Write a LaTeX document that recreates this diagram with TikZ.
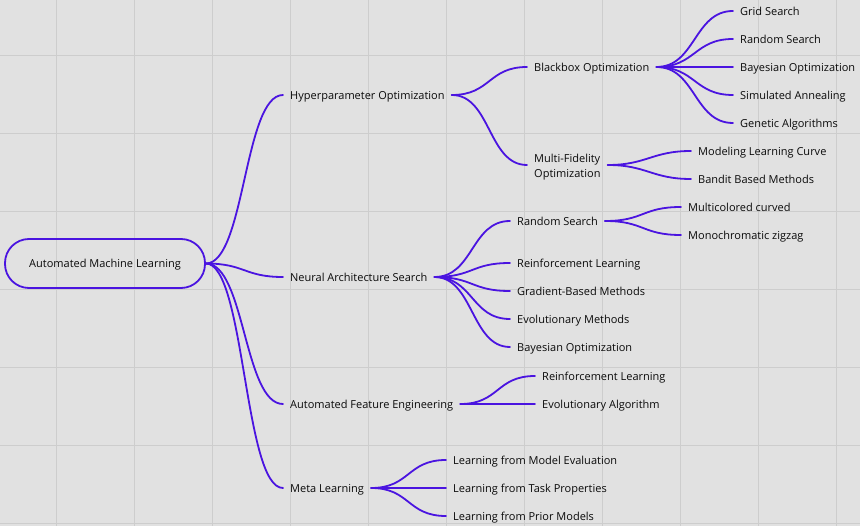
\documentclass[tikz,border=0pt]{standalone}
\usepackage{fontspec}
\setmainfont{Open Sans}
\definecolor{bg}{HTML}{E1E1E1}
\definecolor{gridc}{HTML}{CDCDCD}
\definecolor{edge}{HTML}{4A14E0}
\definecolor{txt}{HTML}{0A0A0A}
\tikzset{
  lbl/.style={anchor=west, inner xsep=7pt, inner ysep=2pt, text=txt,
    text height=10.5pt, text depth=1.5pt,
    font=\fontsize{11}{15}\selectfont},
  lbltwo/.style={anchor=west, inner xsep=7pt, inner ysep=2pt, text=txt,
    align=left, font=\fontsize{11}{15}\selectfont},
  rootbox/.style={draw=edge, line width=1.8pt, rounded corners=24pt,
    minimum width=200pt, minimum height=49pt, text=txt,
    text height=10.5pt, text depth=1.5pt,
    font=\fontsize{11}{13}\selectfont},
  link/.style={draw=edge, line width=1.8pt, line cap=round},
}
\newcommand{\conn}[2]{\draw[link] (#1.east) .. controls +(39,0) and +(-39,0) .. (#2.west);}
\begin{document}
\begin{tikzpicture}[x=1pt,y=-1pt]
\fill[bg] (0,0) rectangle (860,526);
\useasboundingbox (0,0) rectangle (860,526);
\foreach \i in {0,...,10} \draw[gridc, line width=0.9pt] (56+78*\i,0) -- (56+78*\i,526);
\foreach \j in {0,...,6} \draw[gridc, line width=0.9pt] (0,55+78*\j) -- (860,55+78*\j);

\node[rootbox] (root) at (105,263.5) {Automated Machine Learning};

\node[lbl] (hp)  at (283,95)  {Hyperparameter Optimization};
\node[lbl] (nas) at (283,277) {Neural Architecture Search};
\node[lbl] (afe) at (283,404) {Automated Feature Engineering};
\node[lbl] (ml)  at (283,488) {Meta Learning};

\node[lbl] (bb) at (527,67)  {Blackbox Optimization};
\node[lbltwo] (mf) at (527,167) {Multi-Fidelity\\Optimization};
\coordinate (mfw) at ([yshift=2pt]mf.west);
\coordinate (mfe) at ([yshift=2pt]mf.east);

\node[lbl] (gs)  at (733,11)  {Grid Search};
\node[lbl] (rs)  at (733,39)  {Random Search};
\node[lbl] (bo)  at (733,67)  {Bayesian Optimization};
\node[lbl] (sa)  at (733,95)  {Simulated Annealing};
\node[lbl] (ga)  at (733,123) {Genetic Algorithms};

\node[lbl] (mlc) at (691,151) {Modeling Learning Curve};
\node[lbl] (bbm) at (691,179) {Bandit Based Methods};

\node[lbl] (nrs) at (510,221) {Random Search};
\node[lbl] (nrl) at (510,263) {Reinforcement Learning};
\node[lbl] (ngb) at (510,291) {Gradient-Based Methods};
\node[lbl] (nev) at (510,319) {Evolutionary Methods};
\node[lbl] (nbo) at (510,347) {Bayesian Optimization};

\node[lbl] (mc) at (681,207) {Multicolored curved};
\node[lbl] (mz) at (681,235) {Monochromatic zigzag};

\node[lbl] (arl) at (535,376) {Reinforcement Learning};
\node[lbl] (aea) at (535,404) {Evolutionary Algorithm};

\node[lbl] (lme) at (446,460) {Learning from Model Evaluation};
\node[lbl] (ltp) at (446,488) {Learning from Task Properties};
\node[lbl] (lpm) at (446,516) {Learning from Prior Models};

\conn{root}{hp}\conn{root}{nas}\conn{root}{afe}\conn{root}{ml}
\conn{hp}{bb}
\draw[link] (hp.east) .. controls +(39,0) and +(-39,0) .. (mfw);
\conn{bb}{gs}\conn{bb}{rs}\conn{bb}{bo}\conn{bb}{sa}\conn{bb}{ga}
\draw[link] (mfe) .. controls +(39,0) and +(-39,0) .. (mlc.west);
\draw[link] (mfe) .. controls +(39,0) and +(-39,0) .. (bbm.west);
\conn{nas}{nrs}\conn{nas}{nrl}\conn{nas}{ngb}\conn{nas}{nev}\conn{nas}{nbo}
\conn{nrs}{mc}\conn{nrs}{mz}
\conn{afe}{arl}\conn{afe}{aea}
\conn{ml}{lme}\conn{ml}{ltp}\conn{ml}{lpm}
\end{tikzpicture}
\end{document}
